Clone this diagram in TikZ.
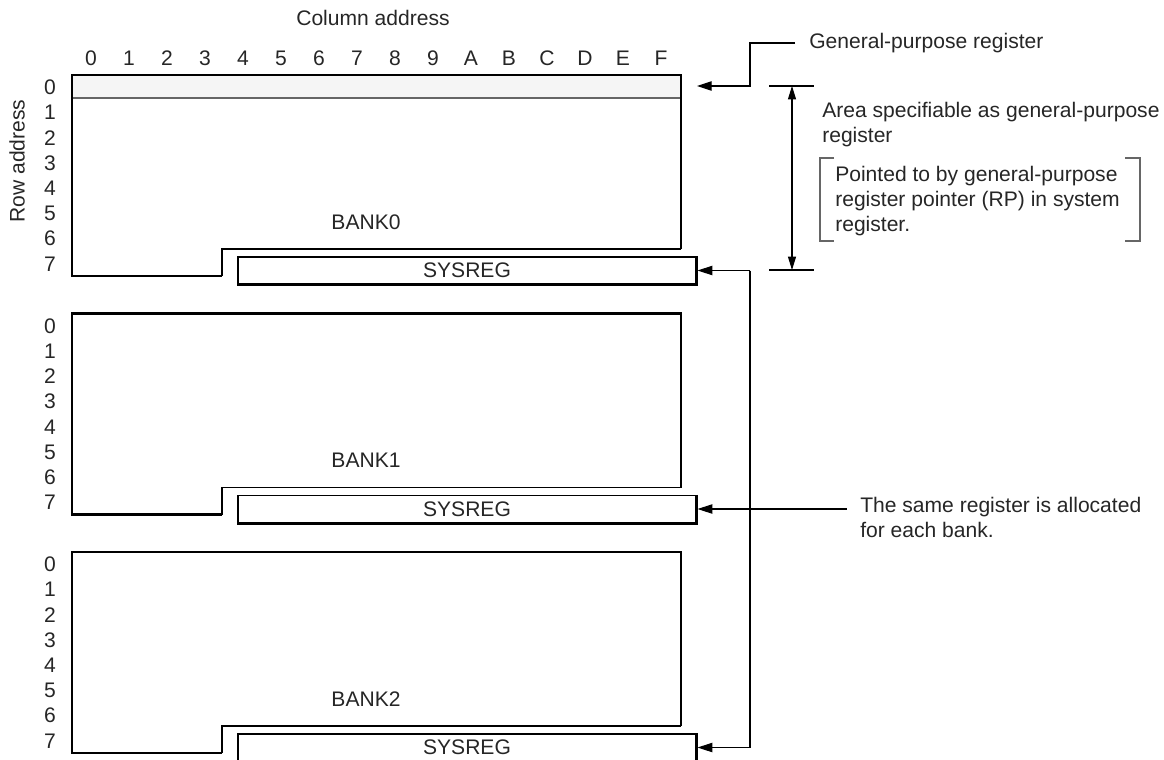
\documentclass[tikz,border=0pt]{standalone}
\usepackage{fontspec}
\setmainfont{Liberation Sans}
\usetikzlibrary{arrows.meta,positioning}

\tikzset{
  thickline/.style={line width=2.2pt},
  thinline/.style={line width=0.8pt},
  lbl/.style={inner sep=0pt, text=black!85},
  sysbox/.style={thinline, draw, minimum width=343.5pt, minimum height=20.25pt,
    inner sep=0pt, text=black!85},
  leader/.style={line width=0.8pt, -{Triangle[length=11pt,width=7pt]}},
}

\begin{document}
\begin{tikzpicture}[x=0.75pt, y=-0.75pt, font=\fontsize{15.8}{18.75}\selectfont]
  \useasboundingbox (0,0) rectangle (1164,760);

  % address labels
  \node[lbl] (coltitle) at (373,18) {Column address};
  \foreach \c [count=\i from 0] in {0,1,2,3,4,5,6,7,8,9,A,B,C,D,E,F}
    \node[lbl] (col\c) at (91+38*\i,58) {\c};
  \node[lbl, rotate=90] (rowtitle) at (17,161) {Row address};

  % general-purpose register row in bank 0
  \fill[black!4] (72,75) rectangle (681,98);
  \draw[thinline, black!60] (72,98) -- (681,98);

  % the three banks
  \foreach \b in {0,1,2} {
    \pgfmathsetmacro{\oy}{238.5*\b}
    \begin{scope}[shift={(0,\oy)}]
      \foreach \r in {0,...,7}
        \node[lbl] (row\b\r) at (50,87.5+25.2*\r) {\r};
      \draw[thickline] (222,276) -- (72,276) -- (72,75) -- (681,75) -- (681,249);
      \draw[thinline] (681,249) -- (222,249) -- (222,276);
      \node[lbl] (bank\b) at (366,222) {BANK\b};
      \node[sysbox] (sys\b) at (467,270.5) {SYSREG};
      \draw[thickline] (sys\b.north east) -- (sys\b.south east) -- (sys\b.south west);
    \end{scope}
  }

  % general-purpose register
  \node[lbl, anchor=west] (gptext) at (809,43) {General-purpose register};
  \coordinate (gpfoot) at (750,86);
  \coordinate (gptip) at (697,86);
  \draw[leader] ([xshift=-10.5pt]gptext.west) -| (gpfoot) -- (gptip);

  % specifiable area
  \coordinate (dimtop) at (792,86);
  \coordinate (dimbot) at (792,270);
  \draw[thinline] (769,86) -- (814,86);
  \draw[thinline] (769,270) -- (814,270);
  \draw[thinline, {Triangle[length=10pt,width=6pt]}-{Triangle[length=10pt,width=6pt]}]
    (dimtop) -- (dimbot);
  \node[lbl, anchor=north west, align=left] (areatext) at (822,102)
    {Area specifiable as general-purpose\\register};
  \node[lbl, anchor=north west, align=left] (rptext) at (835,166)
    {Pointed to by general-purpose\\register pointer (RP) in system\\register.};
  \draw[thinline, black!60] (834,158) -- (820,158) -- (820,241) -- (834,241);
  \draw[thinline, black!60] (1125,158) -- (1140,158) -- (1140,241) -- (1125,241);

  % system registers
  \coordinate (bus) at (750,0);
  \draw[thinline] (bus |- sys0.east) -- (bus |- sys2.east);
  \draw[leader] (bus |- sys0.east) -- ([xshift=0.8pt]sys0.east);
  \draw[leader] (bus |- sys2.east) -- ([xshift=0.8pt]sys2.east);
  \node[lbl, anchor=north west, align=left] (sametext) at (860,497)
    {The same register is allocated\\for each bank.};
  \draw[leader] ([xshift=-10pt]sametext.west |- sys1.east) -- ([xshift=0.8pt]sys1.east);
\end{tikzpicture}
\end{document}
